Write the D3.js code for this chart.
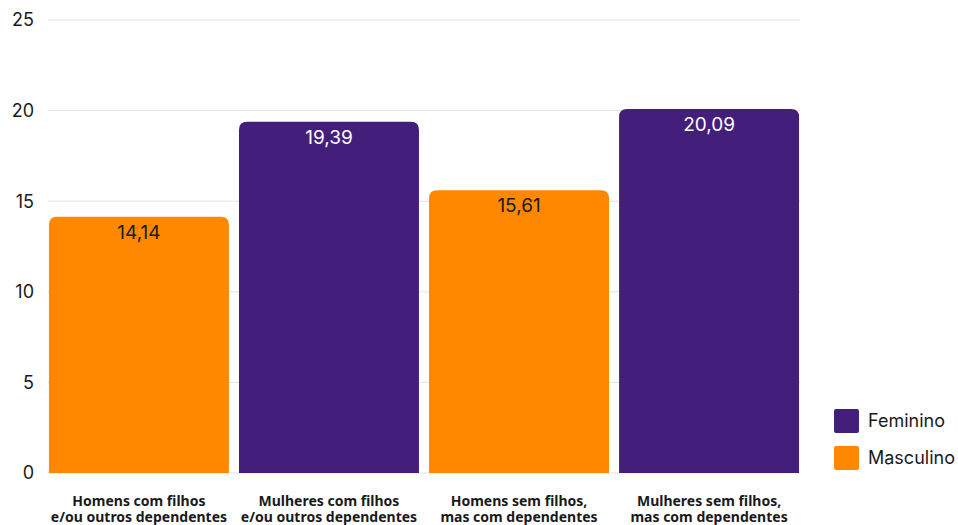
<!DOCTYPE html>
<html>
<head>
<meta charset="utf-8">
<script src="https://cdn.jsdelivr.net/npm/d3@7"></script>
<style>
  html, body { margin: 0; padding: 0; background: #fff; }
  svg { display: block; }
</style>
</head>
<body>
<svg id="chart" width="958" height="525"></svg>
<script>
// Categories (two-line labels), values and series
const categories = [
  ["Homens com filhos", "e/ou outros dependentes"],
  ["Mulheres com filhos", "e/ou outros dependentes"],
  ["Homens sem filhos,", "mas com dependentes"],
  ["Mulheres sem filhos,", "mas com dependentes"]
];
const values = [14.14, 19.39, 15.61, 20.09];
const groups = ["Masculino", "Feminino", "Masculino", "Feminino"];
const legendItems = ["Feminino", "Masculino"];
const yTicks = [0, 5, 10, 15, 20, 25];

const colors = { Feminino: "#431F7B", Masculino: "#FF8800" };
const labelColors = { Feminino: "#ffffff", Masculino: "#1a1a1a" };

const svg = d3.select("#chart");
const plotLeft = 48, plotRight = 800, plotTop = 20, plotBottom = 473;

const x = d3.scaleBand()
  .domain(d3.range(categories.length))
  .range([plotLeft, plotRight])
  .paddingInner(0.053)
  .paddingOuter(0.005);

const y = d3.scaleLinear().domain([0, 25]).range([plotBottom, plotTop]);

// Gridlines
svg.append("g")
  .selectAll("line")
  .data(yTicks)
  .join("line")
  .attr("x1", plotLeft).attr("x2", plotRight)
  .attr("y1", d => y(d)).attr("y2", d => y(d))
  .attr("stroke", "#e3e3e3").attr("stroke-width", 1);

// Y tick labels
svg.append("g")
  .selectAll("text")
  .data(yTicks)
  .join("text")
  .attr("x", 34)
  .attr("y", d => y(d))
  .attr("dy", "0.35em")
  .attr("text-anchor", "end")
  .attr("font-family", "Inter, Roboto, sans-serif")
  .attr("font-size", 18)
  .attr("fill", "#1a1a1a")
  .text(d => d);

// Bars with rounded top corners
const r = 8;
function barPath(i) {
  const x0 = x(i), x1 = x(i) + x.bandwidth();
  const yt = y(values[i]), yb = y(0);
  return `M${x0},${yb}V${yt + r}Q${x0},${yt} ${x0 + r},${yt}H${x1 - r}Q${x1},${yt} ${x1},${yt + r}V${yb}Z`;
}
svg.append("g")
  .selectAll("path")
  .data(values)
  .join("path")
  .attr("d", (d, i) => barPath(i))
  .attr("fill", (d, i) => colors[groups[i]]);

// Value labels inside bar tops
const fmt = d3.format(".2f");
svg.append("g")
  .selectAll("text")
  .data(values)
  .join("text")
  .attr("x", (d, i) => x(i) + x.bandwidth() / 2)
  .attr("y", d => y(d) + 22)
  .attr("text-anchor", "middle")
  .attr("font-family", "Inter, Roboto, sans-serif")
  .attr("font-size", 19)
  .attr("fill", (d, i) => labelColors[groups[i]])
  .text(d => fmt(d).replace(".", ","));

// Category labels, one text element per line
const lines = categories.flatMap((d, i) => d.map((line, k) => ({ i, k, line })));
svg.append("g")
  .selectAll("text")
  .data(lines)
  .join("text")
  .attr("x", d => x(d.i) + x.bandwidth() / 2)
  .attr("y", d => 506 + d.k * 15.5)
  .attr("text-anchor", "middle")
  .attr("font-family", "'Noto Sans', 'Open Sans', sans-serif")
  .attr("font-weight", 700)
  .attr("font-size", 14)
  .attr("fill", "#1a1a1a")
  .text(d => d.line);

// Legend
const legend = svg.append("g")
  .selectAll("g")
  .data(legendItems)
  .join("g")
  .attr("transform", (d, i) => `translate(834, ${409 + i * 37})`);
legend.append("rect")
  .attr("width", 25).attr("height", 24)
  .attr("rx", 2)
  .attr("fill", d => colors[d]);
legend.append("text")
  .attr("x", 34).attr("y", 12)
  .attr("dy", "0.35em")
  .attr("font-family", "Inter, Roboto, sans-serif")
  .attr("font-size", 18)
  .attr("fill", "#1a1a1a")
  .text(d => d);
</script>
</body>
</html>
